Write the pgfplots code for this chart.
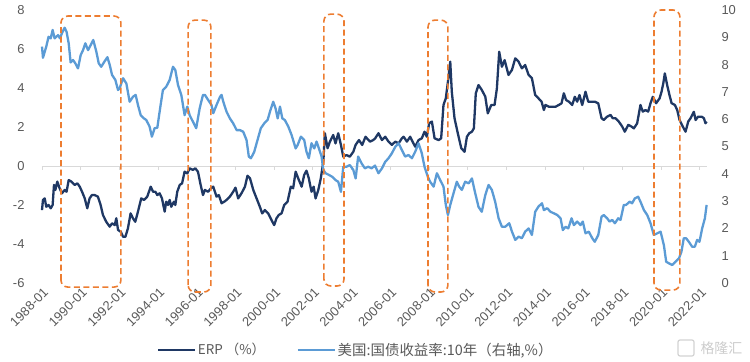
\documentclass[border=0pt]{standalone}
\usepackage{pgfplots}
\pgfplotsset{compat=1.18}
\usepackage{fontspec}
\setmainfont{Liberation Sans}
\newfontfamily\cjk{Noto Sans CJK SC}
\definecolor{navy}{HTML}{1F3864}
\definecolor{lblue}{HTML}{5B9BD5}
\definecolor{orng}{HTML}{ED7D31}
\definecolor{txtgray}{HTML}{595959}
\definecolor{zgray}{HTML}{D9D9D9}
\tikzset{boxst/.style={orng, line width=1.6bp, dash pattern=on 6bp off 3.5bp, rounded corners=7bp}}
\begin{document}
\begin{tikzpicture}
\useasboundingbox (-42bp,-79bp) rectangle (708bp,283bp);
\pgfplotsset{
  common/.style={scale only axis, width=665bp, height=273bp, at={(0,0)}, anchor=south west,
    xmin=1988, xmax=2022.37, axis line style={draw=none}, tick style={draw=none},
    tick label style={font=\fontsize{13}{15}\selectfont, text=txtgray},
    /pgf/number format/assume math mode=true, clip=false}
}
\begin{axis}[common, ymin=-6, ymax=8, ytick={-6,-4,...,8}, yticklabel style={xshift=-14bp},
  xtick={1988,1990,...,2022},
  xticklabels={1988-01,1990-01,1992-01,1994-01,1996-01,1998-01,2000-01,2002-01,2004-01,2006-01,2008-01,2010-01,2012-01,2014-01,2016-01,2018-01,2020-01,2022-01},
  xticklabel style={rotate=45, anchor=east, yshift=-8bp, xshift=1bp}]
\draw[zgray, line width=0.9bp] (axis cs:1988,0) -- (axis cs:2022.37,0);
\pgfplotsinvokeforeach{1988,1990,...,2022}{\draw[zgray, line width=0.9bp] (axis cs:#1,0) -- ++(0bp,-4bp);}
\addplot[navy, line width=2.3bp, line join=round] coordinates {
(1988.0,-2.26)(1988.05,-1.74)(1988.14,-1.66)(1988.22,-2.09)(1988.34,-2.00)(1988.45,-2.17)(1988.55,-2.0)
(1988.62,-0.97)(1988.69,-1.23)(1988.79,-0.80)(1988.91,-1.14)(1989.03,-1.40)(1989.17,-1.23)(1989.27,-1.32)
(1989.38,-0.72)(1989.52,-0.80)(1989.69,-0.97)(1989.83,-0.89)(1989.95,-1.06)(1990.07,-1.32)(1990.21,-1.66)
(1990.34,-2.17)(1990.46,-1.66)(1990.58,-1.49)(1990.72,-1.49)(1990.89,-1.57)(1991.03,-2.0)(1991.15,-2.51)
(1991.32,-2.86)(1991.50,-3.11)(1991.62,-2.94)(1991.76,-3.03)(1991.84,-2.68)(1991.93,-3.28)(1992.07,-3.37)
(1992.19,-3.63)(1992.31,-3.63)(1992.44,-3.20)(1992.58,-2.43)(1992.70,-2.68)(1992.82,-2.86)(1992.96,-2.34)
(1993.13,-1.66)(1993.27,-1.74)(1993.44,-1.57)(1993.62,-1.06)(1993.74,-1.32)(1993.86,-1.32)(1993.96,-1.49)
(1994.08,-1.40)(1994.20,-1.66)(1994.34,-2.34)(1994.42,-1.83)(1994.51,-2.00)(1994.60,-1.74)(1994.68,-2.09)
(1994.82,-1.83)(1994.89,-2.0)(1994.99,-1.32)(1995.12,-0.97)(1995.24,-0.89)(1995.37,-0.29)(1995.51,-0.38)
(1995.63,-0.12)(1995.80,-0.20)(1995.92,-0.12)(1996.06,-0.29)(1996.20,-0.97)(1996.32,-1.49)
(1996.42,-1.23)(1996.59,-1.32)(1996.73,-1.14)(1996.85,-1.06)(1997.02,-1.57)(1997.14,-1.49)(1997.28,-1.91)
(1997.42,-1.83)(1997.54,-1.74)(1997.71,-1.57)(1997.88,-1.32)(1998.00,-1.11)(1998.14,-1.66)(1998.31,-1.40)
(1998.49,-1.06)(1998.62,-0.50)(1998.75,-0.63)(1998.92,-1.23)(1999.09,-1.66)(1999.26,-2.09)(1999.38,-2.43)
(1999.52,-2.26)(1999.69,-2.43)(1999.86,-2.77)(2000.00,-3.03)(2000.12,-2.68)(2000.24,-2.51)(2000.38,-2.43)
(2000.52,-2.00)(2000.69,-1.83)(2000.86,-1.06)(2000.98,-1.14)(2001.11,-0.29)(2001.24,-0.63)(2001.42,-1.06)
(2001.55,-0.46)(2001.67,-0.24)(2001.79,-0.63)(2001.93,-1.32)(2002.04,-1.06)(2002.14,-1.66)(2002.28,-1.23)
(2002.41,-0.63)(2002.54,0.22)(2002.62,1.68)(2002.76,0.91)(2002.88,1.25)(2003.05,1.59)(2003.17,1.16)
(2003.31,1.68)(2003.45,1.08)(2003.57,0.48)(2003.74,0.56)(2003.91,0.48)(2004.09,0.73)(2004.21,1.08)
(2004.38,1.33)(2004.55,1.08)(2004.72,1.50)(2004.95,1.25)(2005.12,1.33)
(2005.22,1.42)(2005.39,1.68)(2005.57,1.33)(2005.74,1.50)(2005.91,1.25)(2006.08,1.08)(2006.26,1.25)
(2006.43,1.16)(2006.60,1.42)(2006.69,1.50)(2006.86,1.25)(2007.03,1.50)(2007.15,1.25)(2007.29,0.99)
(2007.46,1.33)(2007.63,1.42)(2007.77,1.76)(2007.89,1.50)(2008.01,2.19)(2008.15,2.28)(2008.29,1.42)
(2008.50,1.33)(2008.63,1.42)(2008.75,3.13)(2008.87,3.47)(2008.98,4.32)(2009.10,5.35)(2009.18,3.81)
(2009.32,2.45)(2009.49,1.68)(2009.67,0.91)(2009.84,0.73)(2009.96,1.50)(2010.08,1.68)(2010.22,1.76)
(2010.32,1.93)(2010.42,3.73)(2010.56,4.15)(2010.73,3.90)(2010.91,3.56)(2011.04,2.70)(2011.22,3.13)
(2011.39,3.13)(2011.51,3.98)(2011.63,5.86)(2011.77,5.09)(2011.91,5.43)(2012.11,4.67)(2012.29,4.93)
(2012.46,5.52)(2012.63,5.35)(2012.80,5.01)(2012.97,5.18)(2013.15,4.67)(2013.32,4.50)(2013.49,3.64)
(2013.66,3.47)(2013.82,3.30)(2013.94,2.87)
(2014.02,3.13)(2014.20,3.04)(2014.37,3.04)(2014.54,3.04)(2014.71,3.13)(2014.85,3.21)(2014.97,3.73)
(2015.09,3.38)(2015.23,3.30)(2015.40,3.13)(2015.54,3.55)(2015.66,3.30)(2015.78,3.64)(2015.92,3.13)
(2016.09,3.81)(2016.23,3.30)(2016.40,3.30)(2016.57,3.30)(2016.75,3.21)(2016.92,2.45)(2017.04,2.36)
(2017.21,2.53)(2017.38,2.62)(2017.50,2.45)(2017.64,2.45)(2017.81,2.28)(2017.99,2.02)(2018.12,1.76)
(2018.30,2.11)(2018.47,2.02)(2018.59,1.93)(2018.76,2.19)(2018.93,3.13)(2019.05,2.79)(2019.19,2.87)
(2019.33,2.79)(2019.45,3.22)(2019.57,3.55)(2019.74,3.22)(2019.92,3.47)(2020.02,3.81)(2020.11,4.24)
(2020.19,4.75)(2020.31,4.15)(2020.43,3.64)(2020.54,3.22)(2020.71,3.13)(2020.83,2.87)(2020.95,2.36)
(2021.12,2.02)(2021.26,1.76)(2021.40,2.28)(2021.52,2.45)(2021.69,2.78)(2021.78,2.36)(2021.91,2.53)
(2022.09,2.53)(2022.21,2.45)(2022.29,2.19)(2022.35,2.28)
};
\end{axis}
\begin{axis}[common, ymin=0, ymax=10, ytick={0,1,...,10}, yticklabel pos=right, yticklabel style={xshift=11bp},
  xtick=\empty,
  legend style={at={(0.472,-0.245)}, anchor=center, draw=none, fill=none, legend columns=2,
    font=\cjk\fontsize{13.5}{15}\selectfont, text=txtgray, /tikz/every even column/.append style={column sep=30bp}},
  legend cell align=left,
  legend image code/.code={\draw[#1, line width=1.6bp] (0bp,0bp) -- (37bp,0bp);}]
\addlegendimage{navy}
\addlegendentry{ERP （\%）}
\addplot[lblue, line width=2.3bp, line join=round, forget plot] coordinates {
(1988.0,8.66)(1988.05,8.25)(1988.22,8.66)(1988.34,9.02)(1988.45,8.96)(1988.55,9.27)(1988.65,8.96)
(1988.74,9.02)(1988.83,9.08)(1988.93,8.96)(1989.03,9.15)(1989.17,9.35)(1989.27,9.2)(1989.38,8.78)
(1989.48,8.08)(1989.60,8.17)(1989.72,8.05)(1989.86,7.86)(1990.00,8.35)(1990.12,8.53)(1990.24,8.78)
(1990.38,8.53)(1990.52,8.72)(1990.65,8.90)(1990.81,8.47)(1990.93,8.05)(1991.06,7.92)(1991.20,8.08)
(1991.38,8.27)(1991.50,7.99)(1991.62,7.62)(1991.79,7.44)(1991.93,7.07)(1992.01,7.13)(1992.19,7.50)
(1992.36,7.31)(1992.53,6.64)(1992.70,6.82)(1992.84,6.89)(1992.96,6.52)(1993.10,6.15)(1993.27,6.03)
(1993.39,5.97)(1993.56,5.73)(1993.68,5.36)(1993.82,5.67)(1993.96,5.69)(1994.13,6.52)(1994.25,7.07)
(1994.42,7.19)(1994.60,7.44)(1994.77,7.92)(1994.89,7.80)(1995.03,7.25)(1995.20,6.89)(1995.37,6.15)
(1995.51,6.46)(1995.63,6.15)(1995.80,5.91)(1995.97,5.67)(1996.15,6.40)(1996.32,6.89)
(1996.42,6.89)(1996.59,6.70)(1996.76,6.52)(1996.85,6.22)(1997.02,6.52)(1997.20,6.82)(1997.28,6.89)
(1997.37,6.64)(1997.54,6.27)(1997.71,6.03)(1997.88,5.85)(1998.06,5.60)(1998.23,5.60)(1998.40,5.54)
(1998.57,5.24)(1998.69,4.63)(1998.80,4.57)(1998.97,4.81)(1999.14,5.24)(1999.31,5.67)(1999.49,5.85)
(1999.66,5.97)(1999.78,6.27)(1999.95,6.64)(2000.07,6.40)(2000.18,6.03)(2000.30,6.46)(2000.42,6.03)
(2000.55,5.97)(2000.73,5.73)(2000.90,5.42)(2001.11,4.93)(2001.21,5.05)(2001.38,5.36)(2001.55,5.24)
(2001.67,4.81)(2001.79,4.57)(2001.93,5.12)(2002.07,4.93)(2002.19,5.18)(2002.31,4.93)(2002.45,4.63)
(2002.54,4.14)(2002.66,4.02)(2002.83,3.96)(2003.00,3.89)(2003.17,3.77)(2003.31,3.71)(2003.45,3.34)
(2003.57,4.26)(2003.74,4.26)(2003.91,4.32)(2004.09,4.14)(2004.21,3.83)(2004.34,4.63)(2004.52,4.38)
(2004.69,4.20)(2004.86,4.26)(2005.03,4.20)(2005.21,4.30)
(2005.39,4.02)(2005.57,4.20)(2005.74,4.44)(2005.91,4.57)(2006.08,4.75)(2006.26,4.99)(2006.43,5.12)
(2006.60,4.87)(2006.77,4.63)(2006.94,4.69)(2007.12,4.57)(2007.29,4.81)(2007.46,5.12)(2007.63,4.75)
(2007.77,4.26)(2007.94,3.89)(2008.06,3.71)(2008.24,3.53)(2008.41,4.02)(2008.58,3.77)(2008.75,3.53)
(2008.87,2.86)(2008.98,2.49)(2009.10,2.86)(2009.27,3.29)(2009.44,3.71)(2009.56,3.53)(2009.70,3.41)
(2009.87,3.71)(2010.05,3.65)(2010.22,3.83)(2010.39,3.29)(2010.56,2.79)(2010.73,2.61)(2010.91,3.22)
(2011.08,3.59)(2011.25,3.41)(2011.42,2.98)(2011.60,2.37)(2011.77,2.06)(2011.94,2.06)(2012.15,2.19)
(2012.29,1.88)(2012.46,1.58)(2012.63,1.70)(2012.80,1.64)(2012.97,1.88)(2013.15,2.00)(2013.32,1.76)
(2013.49,2.61)(2013.66,2.80)(2013.84,2.92)
(2013.94,2.67)(2014.11,2.74)(2014.28,2.61)(2014.46,2.55)(2014.63,2.49)(2014.80,2.37)(2014.92,1.94)
(2015.06,2.06)(2015.20,2.00)(2015.37,2.37)(2015.49,2.12)(2015.66,2.25)(2015.83,2.12)(2015.95,2.25)
(2016.09,1.82)(2016.26,1.88)(2016.44,1.64)(2016.57,1.51)(2016.75,1.76)(2016.92,2.43)(2017.04,2.49)
(2017.21,2.37)(2017.33,2.25)(2017.47,2.31)(2017.61,2.19)(2017.78,2.37)(2017.90,2.31)(2018.07,2.86)
(2018.19,2.86)(2018.37,2.98)(2018.50,2.92)(2018.64,3.10)(2018.81,3.16)(2018.93,2.98)(2019.11,2.67)
(2019.28,2.49)(2019.45,2.19)(2019.62,1.76)(2019.80,1.82)(2019.97,1.88)(2020.14,1.39)(2020.26,0.78)
(2020.40,0.72)(2020.57,0.66)(2020.74,0.78)(2020.92,0.90)(2021.05,1.15)(2021.17,1.64)(2021.29,1.64)
(2021.43,1.51)(2021.60,1.33)(2021.74,1.33)(2021.86,1.58)(2021.98,1.51)(2022.12,2.00)(2022.26,2.37)
(2022.35,2.86)
};
\addlegendimage{lblue}
\addlegendentry{\fontsize{14.5}{15}\selectfont 美国:国债收益率:10年（右轴,\%）}
\draw[boxst] (axis cs:1988.98,-0.15) rectangle (axis cs:1992.08,9.78);
\draw[boxst] (axis cs:1995.55,-0.33) rectangle (axis cs:1996.73,9.63);
\draw[boxst] (axis cs:2002.57,-0.11) rectangle (axis cs:2003.61,9.85);
\draw[boxst] (axis cs:2007.95,-0.33) rectangle (axis cs:2008.98,9.63);
\draw[boxst] (axis cs:2019.63,-0.26) rectangle (axis cs:2020.97,10.0);
\end{axis}
\draw[gray!35, line width=1.2bp, rounded corners=2bp] (636bp,-73bp) rectangle (652bp,-57bp);
\node[gray!40, font=\cjk\fontsize{14}{14}\selectfont, anchor=west] at (655bp,-65bp) {格隆汇};
\end{tikzpicture}
\end{document}
